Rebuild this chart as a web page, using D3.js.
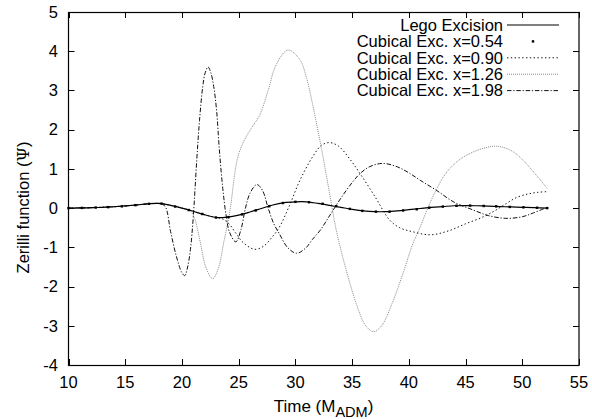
<!DOCTYPE html>
<html>
<head>
<meta charset="utf-8">
<script src="https://cdn.jsdelivr.net/npm/d3@7"></script>
<style>
  html, body { margin: 0; padding: 0; background: #fff; }
  svg { display: block; }
  text { font-family: "Liberation Sans", Arial, Helvetica, sans-serif; fill: #000; }
</style>
</head>
<body>
<svg id="chart" width="592" height="419"></svg>
<script>
// Zerilli waveform Psi(t) for the excision runs
const xTicks = [10, 15, 20, 25, 30, 35, 40, 45, 50, 55];
const yTicks = [-4, -3, -2, -1, 0, 1, 2, 3, 4, 5];

const seriesNames = ["Lego Excision", "Cubical Exc. x=0.54", "Cubical Exc. x=0.90",
                     "Cubical Exc. x=1.26", "Cubical Exc. x=1.98"];

const timeLego = [10, 11, 12, 13, 14, 15, 16, 17, 18, 19, 20, 21, 22, 23, 24, 25, 26, 27, 28, 29, 30,
                  31, 32, 33, 34, 35, 36, 37, 38, 39, 40, 41, 42, 43, 44, 45, 46, 47, 48, 49, 50, 51, 52.2];
const psiLego = [0, 0.005, 0.01, 0.02, 0.035, 0.055, 0.08, 0.11, 0.12, 0.07, 0.0, -0.08, -0.17, -0.24,
                 -0.23, -0.18, -0.1, -0.01, 0.08, 0.14, 0.16, 0.16, 0.12, 0.07, 0.02, -0.03, -0.07,
                 -0.09, -0.09, -0.07, -0.04, -0.01, 0.02, 0.04, 0.06, 0.065, 0.06, 0.05, 0.04, 0.03,
                 0.02, 0.01, 0.0];

const timeX054 = [10.0, 11.2, 12.4, 13.5, 14.7, 15.9, 17.1, 18.2, 19.4, 20.6, 21.8, 23.0, 24.1, 25.3,
                  26.5, 27.7, 28.9, 30.0, 31.2, 32.4, 33.6, 34.8, 35.9, 37.1, 38.3, 39.5, 40.7, 41.8,
                  43.0, 44.2, 45.4, 46.6, 47.7, 48.9, 50.1, 51.3, 52.2];
const psiX054 = [0.0, 0.005, 0.015, 0.025, 0.045, 0.075, 0.11, 0.115, 0.04, -0.05, -0.15, -0.24, -0.23,
                 -0.16, -0.06, 0.05, 0.13, 0.16, 0.15, 0.11, 0.05, -0.02, -0.07, -0.09, -0.09, -0.06,
                 -0.03, 0.01, 0.04, 0.06, 0.065, 0.055, 0.045, 0.03, 0.02, 0.01, 0.0];

const timeX090 = [10, 12, 14, 16, 17, 18, 19, 20, 21, 22, 23, 23.6, 24.2, 24.8, 25.4, 26.4, 27.2, 28.0,
                  28.6, 29.5, 30.4, 31.5, 32.3, 33.0, 33.8, 34.8, 35.7, 37.0, 38.3, 39.2, 40.3, 41.9,
                  43.5, 45.0, 46.5, 47.5, 48.5, 49.5, 50.5, 51.3, 52.2];
const psiX090 = [0, 0.01, 0.035, 0.08, 0.11, 0.12, 0.07, 0.0, -0.08, -0.17, -0.24, -0.28, -0.42, -0.66,
                 -0.88, -1.05, -0.97, -0.72, -0.48, 0.08, 0.71, 1.3, 1.6, 1.67, 1.58, 1.25, 0.88, 0.3,
                 -0.3, -0.5, -0.6, -0.68, -0.58, -0.4, -0.23, -0.08, 0.1, 0.27, 0.36, 0.4, 0.42];

const timeX126 = [10, 12, 14, 16, 17, 18, 19, 20, 20.7, 21.1, 21.6, 22.1, 22.7, 23.2, 23.7, 24.2, 24.9,
                  25.5, 26.1, 26.85, 27.6, 28.3, 29.35, 30.4, 31.0, 31.5, 32.27, 33.0, 33.6, 34.5, 35.5,
                  36.2, 36.9, 37.6, 38.5, 39.5, 40.3, 41.0, 41.6, 42.4, 43.2, 44.0, 44.8, 45.6, 46.4,
                  47.7, 49.0, 50.0, 51.0, 52.2];
const psiX126 = [0, 0.01, 0.035, 0.08, 0.11, 0.12, 0.07, 0.0, -0.06, -0.25, -0.85, -1.5, -1.8, -1.55,
                 -0.85, -0.13, 1.27, 1.73, 2.03, 2.37, 3.0, 3.65, 4.03, 3.78, 3.3, 2.67, 1.56, 0.4,
                 -0.56, -1.6, -2.55, -3.0, -3.15, -3.0, -2.45, -1.65, -0.95, -0.48, -0.05, 0.46, 0.86,
                 1.12, 1.3, 1.42, 1.51, 1.58, 1.47, 1.24, 0.92, 0.5];

const timeX198 = [10, 12, 14, 16, 17, 18, 18.5, 19.0, 19.5, 20.0, 20.25, 20.5, 20.75, 21.0, 21.3, 21.55,
                  21.83, 22.05, 22.3, 22.55, 22.8, 23.05, 23.3, 23.6, 23.9, 24.2, 24.75, 25.2, 25.6,
                  26.0, 26.6, 27.1, 27.6, 28.1, 28.6, 29.3, 30.1, 30.9, 31.5, 32.2, 33, 34, 35, 35.7,
                  36.5, 37.7, 39, 40, 41, 42.4, 44, 45.7, 47, 48.5, 50, 51, 52.2];
const psiX198 = [0, 0.01, 0.035, 0.08, 0.11, 0.11, 0.05, -0.6, -1.22, -1.65, -1.72, -1.5, -1.05, -0.22,
                 1.2, 2.24, 3.09, 3.45, 3.6, 3.45, 3.1, 2.5, 1.48, 0.5, -0.2, -0.62, -0.86, -0.55, 0.0,
                 0.38, 0.6, 0.45, 0.0, -0.4, -0.66, -1.0, -1.15, -1.02, -0.8, -0.56, -0.2, 0.25, 0.65,
                 0.88, 1.05, 1.14, 1.05, 0.9, 0.71, 0.46, 0.15, -0.05, -0.19, -0.26, -0.22, -0.12, 0.02];

const zip = (ts, vs) => ts.map((t, i) => [t, vs[i]]);

const svg = d3.select("#chart");
const plotLeft = 68.5, plotRight = 579, plotTop = 12, plotBottom = 365;

const x = d3.scaleLinear().domain([10, 55]).range([plotLeft, plotRight]);
const y = d3.scaleLinear().domain([-4, 5]).range([plotBottom, plotTop]);

svg.append("rect").attr("width", 592).attr("height", 419).attr("fill", "#fff");

// inward ticks on all four sides
const tickLen = 6;
const axisG = svg.append("g").attr("stroke", "#000").attr("stroke-width", 1);
xTicks.forEach(v => {
  const px = Math.round(x(v)) + 0.5;
  axisG.append("line").attr("x1", px).attr("x2", px).attr("y1", plotBottom).attr("y2", plotBottom - tickLen);
  axisG.append("line").attr("x1", px).attr("x2", px).attr("y1", plotTop).attr("y2", plotTop + tickLen);
});
yTicks.forEach(v => {
  const py = Math.round(y(v)) + 0.5;
  axisG.append("line").attr("x1", plotLeft).attr("x2", plotLeft + tickLen).attr("y1", py).attr("y2", py);
  axisG.append("line").attr("x1", plotRight).attr("x2", plotRight - tickLen).attr("y1", py).attr("y2", py);
});

// tick labels
svg.append("g").selectAll("text").data(xTicks).join("text")
  .attr("x", d => x(d)).attr("y", 388).attr("text-anchor", "middle")
  .attr("font-size", 16.5).text(d => d);
svg.append("g").selectAll("text").data(yTicks).join("text")
  .attr("x", 58).attr("y", d => y(d) + 5.8).attr("text-anchor", "end")
  .attr("font-size", 16.5).text(d => d);

// axis titles
const xt = svg.append("text").attr("x", 323.5).attr("y", 411.5).attr("text-anchor", "middle")
  .attr("font-size", 17);
xt.append("tspan").text("Time (M");
xt.append("tspan").attr("font-size", 14.5).attr("dy", 5).text("ADM");
xt.append("tspan").attr("dy", -5).text(")");

const yt = svg.append("text").attr("transform", "translate(29,207.5) rotate(-90)")
  .attr("text-anchor", "middle").attr("font-size", 16.5);
yt.append("tspan").text("Zerilli function (");
yt.append("tspan").attr("font-family", "'DejaVu Serif', 'Liberation Serif', serif").text("Ψ");
yt.append("tspan").text(")");

// series styles
const styles = [
  { color: "#000", width: 1.2, dash: null },
  { color: "#000", width: 0, dash: null },
  { color: "#111", width: 1, dash: "1.4,2.4" },
  { color: "#8a8a8a", width: 1, dash: "1,1" },
  { color: "#111", width: 1, dash: "4.5,1.8,1.2,1.8" }
];

const line = d3.line().x(d => x(d[0])).y(d => y(d[1])).curve(d3.curveCatmullRom.alpha(0.5));

const plotG = svg.append("g");
const curves = [
  [3, zip(timeX126, psiX126)],
  [2, zip(timeX090, psiX090)],
  [4, zip(timeX198, psiX198)],
  [0, zip(timeLego, psiLego)]
];
curves.forEach(([k, pts]) => {
  const s = styles[k];
  plotG.append("path").attr("d", line(pts)).attr("fill", "none")
    .attr("stroke", s.color).attr("stroke-width", s.width)
    .attr("stroke-dasharray", s.dash);
});
plotG.selectAll("rect.pt").data(zip(timeX054, psiX054)).join("rect")
  .attr("class", "pt")
  .attr("x", d => x(d[0]) - 1.2).attr("y", d => y(d[1]) - 1.2)
  .attr("width", 2.4).attr("height", 2.4).attr("fill", "#000");

// frame
svg.append("rect").attr("x", plotLeft).attr("y", plotTop + 0.5)
  .attr("width", plotRight - plotLeft).attr("height", plotBottom - plotTop)
  .attr("fill", "none").attr("stroke", "#000").attr("stroke-width", 1.2);

// key
const keyG = svg.append("g");
seriesNames.forEach((name, i) => {
  const cy = 25 + i * 16.4;
  keyG.append("text").attr("x", 503).attr("y", cy + 5.8).attr("text-anchor", "end")
    .attr("font-size", 16.5).text(name);
  const s = styles[i];
  if (i === 1) {
    keyG.append("rect").attr("x", 533 - 1.2).attr("y", cy - 1.2)
      .attr("width", 2.4).attr("height", 2.4).attr("fill", "#000");
  } else {
    keyG.append("line").attr("x1", 507).attr("x2", 559).attr("y1", cy).attr("y2", cy)
      .attr("stroke", s.color).attr("stroke-width", s.width)
      .attr("stroke-dasharray", s.dash);
  }
});
</script>
</body>
</html>
